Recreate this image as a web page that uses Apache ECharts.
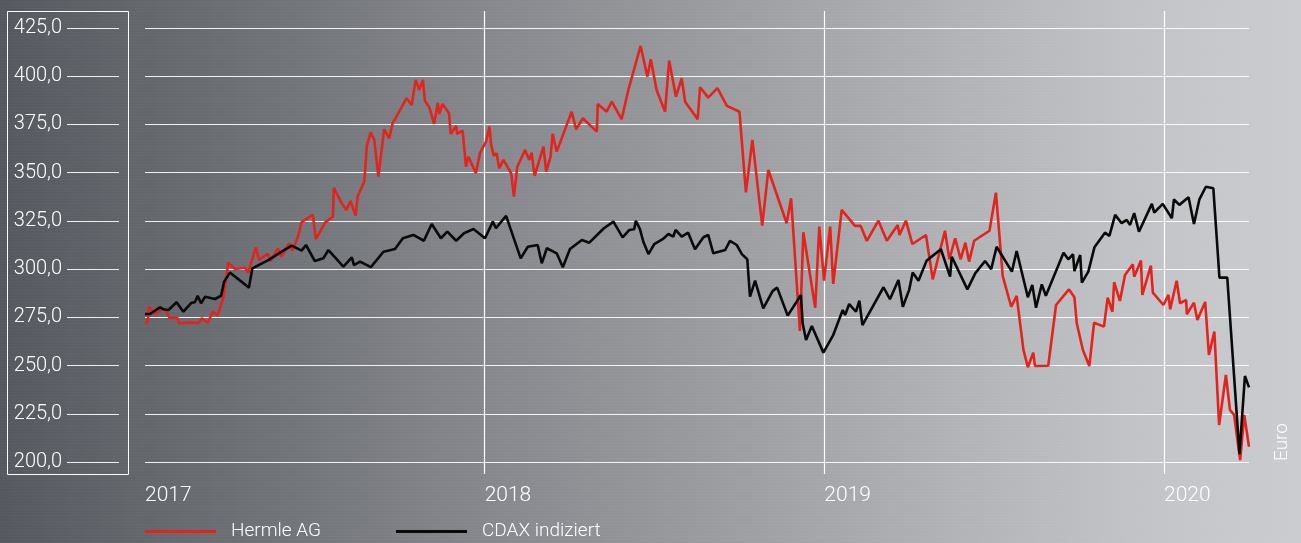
<!DOCTYPE html>
<html>
<head>
<meta charset="utf-8">
<title>Hermle AG vs. CDAX</title>
<script src="https://cdn.jsdelivr.net/npm/echarts@6/dist/echarts.min.js"></script>
<style>
  html, body { margin: 0; padding: 0; }
  body {
    width: 1301px;
    height: 543px;
    background:
      repeating-linear-gradient(0deg, rgba(255,255,255,0.025) 0 1px, rgba(0,0,0,0) 1px 3px),
      linear-gradient(90deg, #55585e 0%, #6c6f74 18%, #86888d 38%, #9a9ca0 55%, #afb1b5 72%, #c2c4c7 88%, #cacccf 100%);
  }
  #chart { width: 1301px; height: 543px; }
</style>
</head>
<body>
<div id="chart"></div>
<script>
// Kurse (Euro), Zeitachse in Jahren
const hermleDates = [2017.000,2017.008,2017.012,2017.029,2017.049,2017.059,2017.072,2017.095,2017.101,2017.132,2017.157,2017.167,2017.185,2017.199,2017.214,2017.231,2017.245,2017.265,2017.294,2017.304,2017.326,2017.336,2017.361,2017.370,2017.391,2017.402,2017.424,2017.434,2017.451,2017.461,2017.494,2017.503,2017.530,2017.553,2017.556,2017.579,2017.593,2017.605,2017.620,2017.626,2017.646,2017.653,2017.664,2017.675,2017.687,2017.704,
  2017.719,2017.729,2017.751,2017.770,2017.785,2017.797,2017.807,2017.818,2017.824,2017.837,2017.851,2017.862,2017.866,2017.876,2017.895,2017.900,2017.916,2017.919,2017.935,2017.945,2017.952,2017.974,2017.986,2018.004,2018.014,2018.019,2018.027,2018.035,2018.043,2018.055,2018.078,2018.086,2018.096,2018.119,2018.131,2018.138,2018.147,2018.173,2018.181,2018.194,2018.200,2018.212,2018.256,2018.269,2018.289,2018.330,2018.333,2018.359,2018.374,2018.403,
  2018.423,2018.459,2018.479,2018.489,2018.506,2018.531,2018.543,2018.563,2018.580,2018.590,2018.627,2018.634,2018.658,2018.685,2018.713,2018.750,2018.769,2018.788,2018.817,2018.835,2018.889,2018.902,2018.928,2018.938,2018.973,2018.985,2018.999,2019.017,2019.026,2019.051,2019.090,2019.107,
  2019.125,2019.159,2019.184,2019.216,2019.221,2019.240,2019.259,2019.299,2019.319,2019.355,2019.368,2019.385,2019.401,2019.415,2019.426,2019.441,2019.486,2019.505,2019.525,2019.550,2019.566,2019.586,2019.599,2019.615,2019.620,2019.659,2019.682,2019.720,2019.736,
  2019.743,2019.761,2019.780,2019.794,2019.823,2019.834,2019.848,2019.853,2019.870,2019.885,2019.908,2019.912,2019.932,2019.936,2019.961,2019.967,2019.998,2020.013,2020.018,2020.037,2020.047,2020.065,2020.067,2020.088,2020.098,2020.121,2020.132,2020.148,2020.162,2020.182,2020.194,2020.206,2020.224,2020.236,2020.250]
const hermleValues = [271.9,272.7,280.5,276.7,279.2,279.2,274.8,274.8,271.9,272.4,272.1,274.5,272.1,277.9,276.1,285.4,303.3,300.1,300.7,298.2,311.3,304.7,308.0,304.2,310.8,306.4,313.4,309.6,317.2,324.4,328.2,315.6,324.1,327.2,342.2,334.1,330.7,335.3,327.7,337.6,345.7,363.8,370.9,367.0,347.9,372.5,
  367.8,375.6,382.5,388.6,385.1,398.1,392.9,398.1,387.3,383.9,375.3,386.3,380.4,385.6,380.8,370.1,374.2,370.1,371.8,353.1,358.3,349.7,360.1,366.1,373.9,364.4,358.7,360.1,352.3,356.6,349.7,337.6,353.1,361.8,356.6,360.4,348.3,363.5,350.5,358.3,370.1,360.9,381.6,372.5,378.2,371.3,385.6,381.6,386.8,377.7,
  392.9,415.7,399.8,408.8,392.9,381.6,408.1,389.4,398.9,386.8,377.7,394.3,388.9,393.8,384.6,381.6,339.8,367.0,322.5,351.4,323.8,336.7,267.9,319.1,280.0,322.0,294.0,322.0,292.3,330.7,322.4,322.4,
  314.6,325.1,314.7,322.9,317.7,325.1,313.0,317.7,294.7,319.9,305.1,316.0,305.1,313.7,303.9,314.7,319.9,339.6,296.4,280.5,286.1,258.1,249.1,256.7,249.8,249.9,281.4,289.5,285.4,
  271.9,258.1,249.8,272.2,270.2,285.2,277.9,293.2,283.5,297.0,302.5,296.1,304.4,286.6,301.8,287.8,281.4,286.6,279.2,294.0,282.3,284.0,276.6,282.6,273.6,283.0,255.5,267.6,219.2,245.1,227.0,224.4,201.0,224.4,207.9]

const cdaxDates = [2017.000,2017.015,2017.029,2017.044,2017.054,2017.069,2017.093,2017.113,2017.137,2017.147,2017.155,2017.165,2017.177,2017.206,2017.224,2017.233,2017.250,2017.306,2017.316,2017.363,
  2017.407,2017.432,2017.461,2017.474,2017.500,2017.525,2017.540,2017.584,2017.609,2017.615,2017.633,2017.665,2017.702,2017.736,2017.759,2017.790,2017.821,2017.844,2017.871,2017.890,
  2017.916,2017.939,2017.967,2018.001,2018.024,2018.033,2018.063,2018.106,2018.127,2018.156,2018.168,2018.183,2018.212,2018.230,2018.251,2018.286,2018.308,2018.351,2018.379,2018.406,
  2018.426,2018.440,2018.445,2018.457,2018.467,2018.482,2018.499,2018.524,2018.541,2018.555,2018.562,2018.580,2018.599,2018.619,2018.644,2018.658,2018.673,2018.708,2018.722,2018.742,
  2018.757,2018.773,2018.781,2018.796,2018.820,2018.848,2018.861,2018.892,2018.931,2018.936,2018.946,2018.963,2018.997,2019.026,2019.054,2019.061,2019.073,2019.093,2019.103,2019.112,
  2019.174,2019.193,2019.218,2019.231,2019.250,2019.260,2019.277,2019.301,2019.343,2019.370,2019.375,2019.421,2019.444,2019.473,2019.491,2019.507,2019.552,2019.566,2019.599,2019.612,
  2019.623,2019.640,2019.652,2019.704,2019.718,2019.732,2019.736,2019.753,2019.758,2019.777,2019.795,2019.826,2019.839,2019.856,2019.875,2019.890,2019.900,2019.912,2019.926,2019.964,
  2019.971,2019.996,2020.023,2020.029,2020.045,2020.072,2020.088,2020.104,2020.123,2020.145,2020.163,2020.186,2020.222,2020.238,2020.250]
const cdaxValues = [276.7,276.7,278.4,280.2,279.2,278.8,282.8,277.9,282.6,282.8,286.2,282.3,285.7,284.5,286.2,293.5,298.2,290.4,300.4,304.7,
  309.6,312.2,309.6,312.5,304.2,305.6,309.9,301.3,306.1,302.1,303.9,301.0,309.0,310.4,316.0,317.7,314.7,323.4,316.0,319.4,
  314.7,318.6,320.8,316.0,324.6,321.2,327.6,305.6,311.6,312.5,303.0,310.8,308.2,301.0,310.4,315.1,313.7,321.2,324.6,316.5,
  320.3,320.7,325.1,320.7,314.2,307.8,312.9,315.5,318.2,316.8,320.3,316.8,318.9,310.3,316.5,317.7,308.2,309.9,314.6,312.5,
  307.8,305.1,285.7,294.0,279.7,288.7,290.4,275.9,286.6,271.9,263.3,270.5,256.7,265.8,278.8,276.2,281.9,277.9,283.6,271.0,
  290.6,284.4,294.4,280.5,289.5,298.2,294.0,304.4,310.3,296.1,306.4,289.5,297.8,304.2,299.9,311.6,298.7,309.4,285.4,291.8,
  280.0,292.1,286.2,308.5,305.1,307.7,299.0,307.3,293.0,298.7,311.3,318.9,317.2,328.1,323.8,325.5,322.9,329.0,319.4,333.8,
  329.3,333.8,326.4,336.2,333.3,337.2,323.4,336.2,342.7,341.9,295.6,295.6,204.1,244.6,238.7]

const yearLabels = ['2017', '2018', '2019', '2020']
const valueMin = 200
const valueMax = 425
const valueStep = 25

const font = 'Roboto'
const white = '#ffffff'

function zip(xs, ys) {
  return xs.map((x, i) => [x, ys[i]])
}

const chart = echarts.init(document.getElementById('chart'), null, { renderer: 'canvas' })

chart.setOption({
  animation: false,
  backgroundColor: 'transparent',
  grid: [
    // Jahreslinien
    { left: 145, top: 11, width: 1019, height: 463 },
    // Kurse
    { left: 145, top: 28, width: 1104, height: 434 },
    // Skala links im Kasten
    { left: 67, top: 28, width: 52, height: 434 },
  ],
  xAxis: [
    {
      gridIndex: 0,
      type: 'value',
      min: 2017,
      max: 2020,
      interval: 1,
      axisLine: { show: false },
      axisTick: { show: false },
      splitLine: { show: true, showMinLine: false, lineStyle: { color: white, width: 1.2 } },
      axisLabel: {
        color: white,
        fontFamily: font,
        fontWeight: 300,
        fontSize: 21,
        align: 'left',
        margin: 11,
        formatter: (v) => yearLabels[Math.round(v) - 2017] || '',
      },
    },
    { gridIndex: 1, type: 'value', min: 2017, max: 2020.25, show: false },
    { gridIndex: 2, type: 'value', min: 0, max: 1, show: false },
  ],
  yAxis: [
    { gridIndex: 0, type: 'value', min: 0, max: 1, show: false },
    {
      gridIndex: 1,
      type: 'value',
      min: valueMin,
      max: valueMax,
      interval: valueStep,
      axisLine: { show: false },
      axisTick: { show: false },
      axisLabel: { show: false },
      splitLine: { lineStyle: { color: 'rgba(255,255,255,0.9)', width: 1.2 } },
    },
    {
      gridIndex: 2,
      type: 'value',
      min: valueMin,
      max: valueMax,
      interval: valueStep,
      axisLine: { show: false },
      axisTick: { show: false },
      splitLine: { lineStyle: { color: 'rgba(255,255,255,0.9)', width: 1.2 } },
      axisLabel: {
        color: white,
        fontFamily: font,
        fontWeight: 300,
        fontSize: 20,
        margin: 5,
        formatter: (v) => v.toFixed(1).replace('.', ','),
      },
    },
  ],
  legend: {
    left: 145,
    top: 522,
    padding: 0,
    icon: 'rect',
    itemWidth: 71,
    itemHeight: 3,
    itemGap: 75,
    textStyle: { color: white, fontFamily: font, fontWeight: 300, fontSize: 19, padding: [0, 0, 0, 10] },
    data: ['Hermle AG', 'CDAX indiziert'],
  },
  graphic: [
    {
      type: 'rect',
      shape: { x: 7.5, y: 11.5, width: 121, height: 463 },
      style: { fill: 'none', stroke: white, lineWidth: 1 },
      silent: true,
    },
    {
      type: 'text',
      x: 1282,
      y: 461,
      rotation: Math.PI / 2,
      style: {
        text: 'Euro',
        fill: white,
        font: '300 19px Roboto',
        align: 'left',
        verticalAlign: 'middle',
      },
      silent: true,
    },
  ],
  series: [
    {
      name: 'Hermle AG',
      type: 'line',
      xAxisIndex: 1,
      yAxisIndex: 1,
      data: zip(hermleDates, hermleValues),
      showSymbol: false,
      color: '#e3241d',
      lineStyle: { color: '#e3241d', width: 2.6 },
      z: 3,
    },
    {
      name: 'CDAX indiziert',
      type: 'line',
      xAxisIndex: 1,
      yAxisIndex: 1,
      data: zip(cdaxDates, cdaxValues),
      showSymbol: false,
      color: '#0a0a0a',
      lineStyle: { color: '#0a0a0a', width: 2.6 },
      z: 4,
    },
  ],
})
</script>
</body>
</html>
